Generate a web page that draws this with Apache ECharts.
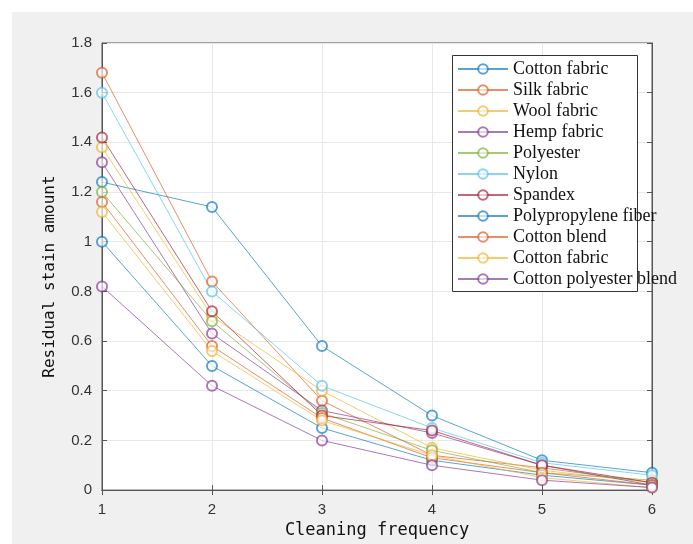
<!DOCTYPE html>
<html>
<head>
<meta charset="utf-8">
<script src="https://cdn.jsdelivr.net/npm/echarts@6/dist/echarts.min.js"></script>
<style>
html,body{margin:0;padding:0;background:#fff;}
#chart{width:693px;height:544px;}
</style>
</head>
<body>
<div id="chart"></div>
<script>
// ---- data ----
const cleaningFrequency = [1, 2, 3, 4, 5, 6];
// second "Cotton fabric" carries a trailing space so the legend keeps both entries
const seriesNames = ['Cotton fabric','Silk fabric','Wool fabric','Hemp fabric','Polyester','Nylon','Spandex','Polypropylene fiber','Cotton blend','Cotton fabric ','Cotton polyester blend'];
const cottonFabric      = [1.24, 1.14, 0.58, 0.30, 0.12, 0.07];
const silkFabric        = [1.68, 0.84, 0.36, 0.14, 0.09, 0.03];
const woolFabric        = [1.38, 0.70, 0.40, 0.17, 0.08, 0.03];
const hempFabric        = [1.32, 0.63, 0.32, 0.23, 0.10, 0.02];
const polyester         = [1.20, 0.68, 0.31, 0.16, 0.07, 0.04];
const nylon             = [1.60, 0.80, 0.42, 0.25, 0.11, 0.06];
const spandex           = [1.42, 0.72, 0.30, 0.24, 0.10, 0.03];
const polypropylene     = [1.00, 0.50, 0.25, 0.12, 0.06, 0.02];
const cottonBlend       = [1.16, 0.58, 0.29, 0.13, 0.07, 0.02];
const cottonFabric2     = [1.12, 0.56, 0.28, 0.14, 0.05, 0.01];
const cottonPolyBlend   = [0.82, 0.42, 0.20, 0.10, 0.04, 0.01];
const seriesValues = [cottonFabric, silkFabric, woolFabric, hempFabric, polyester, nylon, spandex, polypropylene, cottonBlend, cottonFabric2, cottonPolyBlend];
const yTicks = {min: 0, max: 1.8, interval: 0.2};

// ---- style ----
const colors = ['#0072BD','#D95319','#EDB120','#7E2F8E','#77AC30','#4DBEEE','#A2142F','#0072BD','#D95319','#EDB120','#7E2F8E'];
const tickFont = {fontFamily:'Liberation Sans, Arial, sans-serif', fontSize:15, color:'#333'};

const chart = echarts.init(document.getElementById('chart'));
const series = seriesNames.map((n, i) => ({
  name: n,
  type: 'line',
  data: cleaningFrequency.map((x, j) => [x, seriesValues[i][j]]),
  symbol: 'emptyCircle',
  symbolSize: 10,
  showAllSymbol: true,
  color: colors[i],
  lineStyle: {width: 1, opacity: 0.65},
  itemStyle: {opacity: 0.65, borderWidth: 1},
  emphasis: {disabled: true},
  animation: false,
  z: 2
}));

const axisLineStyle = {lineStyle: {color: '#555', width: 1}};
chart.setOption({
  backgroundColor: '#f0f0f0',
  animation: false,
  grid: {left: 102, right: 41, top: 43, bottom: 52, show: true, backgroundColor: '#fff', borderColor: '#555', borderWidth: 1},
  graphic: [
    {type: 'rect', shape: {x: 0, y: 0, width: 12, height: 544}, style: {fill: '#fff'}, silent: true},
    {type: 'rect', shape: {x: 0, y: 0, width: 693, height: 12}, style: {fill: '#fff'}, silent: true},
    {type: 'rect', shape: {x: 452.5, y: 55.5, width: 185, height: 236}, style: {fill: '#fff', stroke: '#333', lineWidth: 1}, z: 3, silent: true}
  ],
  legend: {
    orient: 'vertical',
    left: 457, top: 60,
    itemWidth: 50, itemHeight: 12, itemGap: 3,
    textStyle: {fontFamily: 'Liberation Serif, Times New Roman, serif', fontSize: 18, lineHeight: 18, color: '#111', padding: [0,0,0,0]},
    padding: 0,
    z: 5,
    data: seriesNames.map((n) => ({name: n}))
  },
  xAxis: [{
    type: 'value', min: 1, max: 6, interval: 1,
    name: 'Cleaning frequency', nameLocation: 'middle', nameGap: 30,
    nameTextStyle: {fontFamily: 'DejaVu Sans Mono, Liberation Mono, monospace', fontSize: 17, color: '#111'},
    axisLine: axisLineStyle,
    axisTick: {inside: true, length: 5, lineStyle: {color: '#555'}},
    axisLabel: Object.assign({margin: 12}, tickFont),
    splitLine: {show: true, lineStyle: {color: '#e8e8e8'}}
  }, {
    type: 'value', min: 1, max: 6, interval: 1, position: 'top',
    axisLine: axisLineStyle,
    axisTick: {inside: true, length: 5, lineStyle: {color: '#555'}},
    axisLabel: {show: false}, splitLine: {show: false}
  }],
  yAxis: [{
    type: 'value', min: yTicks.min, max: yTicks.max, interval: yTicks.interval,
    name: 'Residual stain amount', nameLocation: 'middle', nameGap: 44,
    nameTextStyle: {fontFamily: 'DejaVu Sans Mono, Liberation Mono, monospace', fontSize: 16, color: '#111', padding: [0, 20, 0, 0]},
    axisLine: axisLineStyle,
    axisTick: {inside: true, length: 5, lineStyle: {color: '#555'}},
    axisLabel: Object.assign({margin: 10}, tickFont),
    splitLine: {show: true, lineStyle: {color: '#e8e8e8'}}
  }, {
    type: 'value', min: yTicks.min, max: yTicks.max, interval: yTicks.interval, position: 'right',
    axisLine: axisLineStyle,
    axisTick: {inside: true, length: 5, lineStyle: {color: '#555'}},
    axisLabel: {show: false}, splitLine: {show: false}
  }],
  series: series
});
</script>
</body>
</html>
